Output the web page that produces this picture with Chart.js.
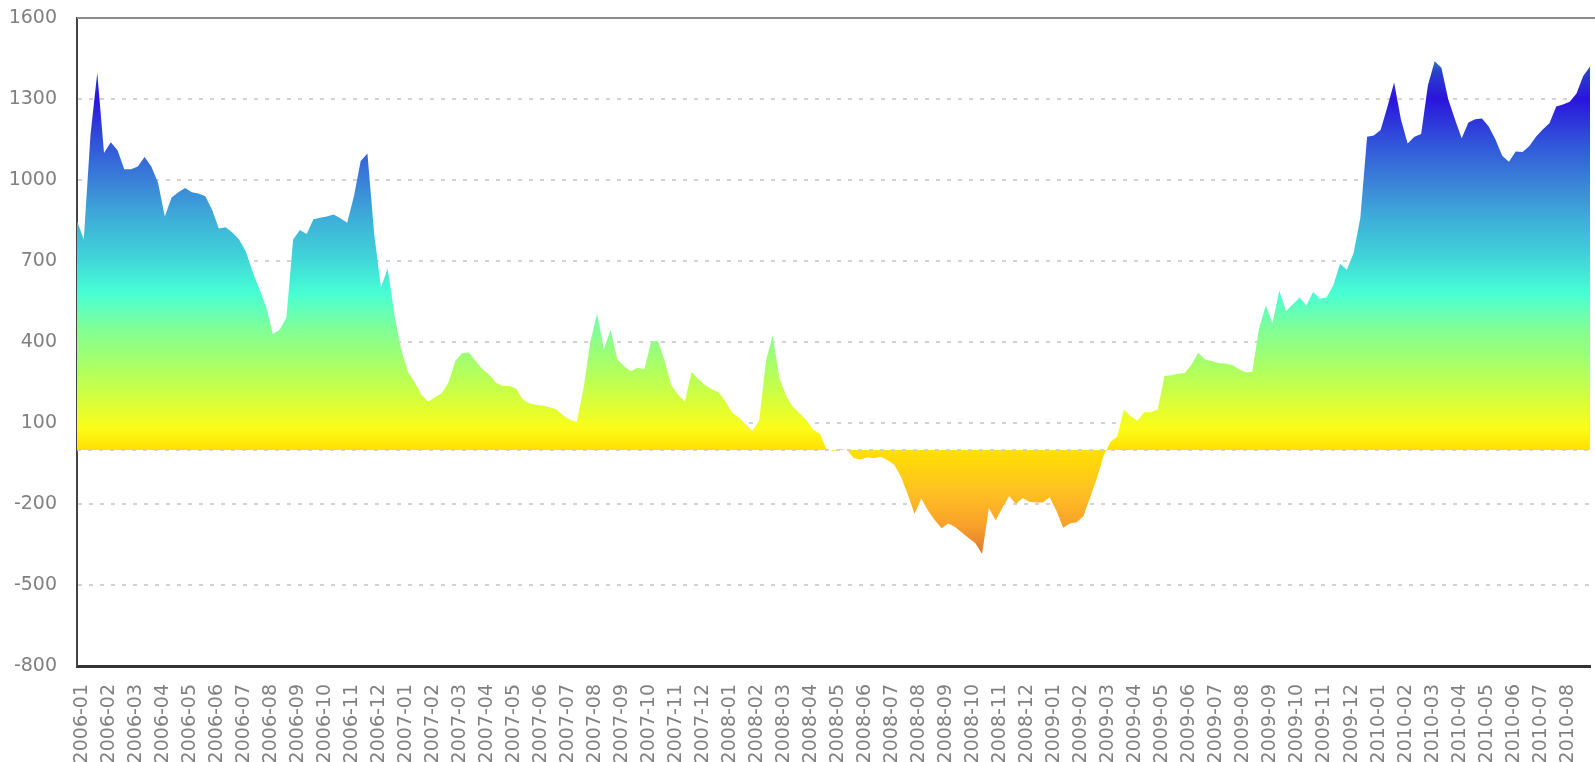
<!DOCTYPE html>
<html>
<head>
<meta charset="utf-8">
<script src="https://cdn.jsdelivr.net/npm/chart.js@4.4.0/dist/chart.umd.min.js"></script>
<style>
    html, body { margin: 0; padding: 0; background: #ffffff; }
    #wrap { width: 1595px; height: 762px; }
</style>
</head>
<body>
<div id="wrap"><canvas id="spreadChart"></canvas></div>
<script>
// Month tick labels on the x axis
const monthLabels = [
    '2006-01', '2006-02', '2006-03', '2006-04', '2006-05', '2006-06', '2006-07', '2006-08', '2006-09', '2006-10', '2006-11', '2006-12',
    '2007-01', '2007-02', '2007-03', '2007-04', '2007-05', '2007-06', '2007-07', '2007-08', '2007-09', '2007-10', '2007-11', '2007-12',
    '2008-01', '2008-02', '2008-03', '2008-04', '2008-05', '2008-06', '2008-07', '2008-08', '2008-09', '2008-10', '2008-11', '2008-12',
    '2009-01', '2009-02', '2009-03', '2009-04', '2009-05', '2009-06', '2009-07', '2009-08', '2009-09', '2009-10', '2009-11', '2009-12',
    '2010-01', '2010-02', '2010-03', '2010-04', '2010-05', '2010-06', '2010-07', '2010-08'
];

// Weekly readings (4 per month)
const values2006 = [
    848, 780, 1168, 1397,   1100, 1140, 1110, 1040,   1040, 1050, 1085, 1050,
    990, 865, 935, 955,     970, 955, 950, 940,       890, 820, 825, 806,
    780, 735, 660, 595,     530, 430, 445, 490,       780, 815, 800, 855,
    860, 865, 872, 858,     842, 940, 1070, 1098,     800, 602, 672, 500
];
const values2007 = [
    370, 290, 250, 205,     180, 195, 210, 250,       330, 358, 362, 330,
    300, 280, 250, 237,     237, 228, 187, 172,       168, 164, 158, 150,
    128, 112, 104, 230,     400, 505, 373, 445,       335, 310, 292, 305,
    300, 400, 405, 330,     240, 205, 180, 290,       262, 240, 225, 214
];
const values2008 = [
    180, 138, 120, 95,      70, 110, 330, 425,        265, 200, 159, 135,
    110, 75, 60, 2,         -3, 4, 0, -30,            -35, -27, -31, -25,
    -38, -55, -100, -165,   -237, -180, -225, -260,   -290, -272, -285, -306,
    -326, -345, -385, -215, -260, -215, -170, -200,   -178, -192, -194, -194
];
const values2009 = [
    -175, -225, -288, -272, -268, -245, -175, -105,   -20, 30, 50, 150,
    125, 108, 140, 140,     150, 274, 277, 282,       285, 316, 360, 335,
    330, 322, 320, 315,     300, 288, 290, 450,       535, 470, 590, 515,
    540, 565, 535, 585,     560, 565, 610, 690,       668, 730, 860, 1160
];
const values2010 = [
    1165, 1185, 1270, 1361, 1225, 1135, 1160, 1170,   1350, 1440, 1416, 1300,
    1225, 1155, 1213, 1225, 1228, 1198, 1150, 1090,   1068, 1106, 1104, 1125,
    1160, 1187, 1210, 1272, 1280, 1290, 1320, 1385,   1420
];

const yMin = -800;
const yMax = 1600;
const yStep = 300;

const samplesPerMonth = 4;

// colour ramp, keyed by value
const rampValues = [1470, 1400, 1300, 1150, 1000, 850, 700, 580, 450, 320, 200, 80, 0, -150, -280, -390];
const rampColors = ['#35a0a0', '#2a40cc', '#2a14dc', '#3050da', '#3a80d8', '#3eb0d8', '#40d8d8', '#48ffd4',
    '#80ff98', '#a8ff68', '#d0ff40', '#fcfc18', '#ffe000', '#ffc222', '#f9a02a', '#dc7a32'];

const allValues = [].concat(values2006, values2007, values2008, values2009, values2010);
const points = allValues.map((v, i) => ({ x: i, y: v }));

Chart.defaults.font.family = '"DejaVu Sans", sans-serif';
Chart.defaults.font.size = 19;
Chart.defaults.color = '#808080';

function areaGradient(context) {
    const chart = context.chart;
    const { ctx, chartArea, scales } = chart;
    if (!chartArea) {
        return null;
    }
    const yScale = scales.y;
    const top = yScale.getPixelForValue(rampValues[0]);
    const bottom = yScale.getPixelForValue(rampValues[rampValues.length - 1]);
    const gradient = ctx.createLinearGradient(0, top, 0, bottom);
    rampValues.forEach((v, i) => {
        const t = (yScale.getPixelForValue(v) - top) / (bottom - top);
        gradient.addColorStop(Math.min(1, Math.max(0, t)), rampColors[i]);
    });
    return gradient;
}

// top frame line and dashed zero line
const framePlugin = {
    id: 'frame',
    afterDatasetsDraw(chart) {
        const { ctx, chartArea, scales } = chart;
        const zeroY = scales.y.getPixelForValue(0);
        ctx.save();
        ctx.strokeStyle = 'rgba(200, 200, 200, 0.8)';
        ctx.lineWidth = 2;
        ctx.setLineDash([4, 7]);
        ctx.beginPath();
        ctx.moveTo(chartArea.left, zeroY);
        ctx.lineTo(chartArea.right, zeroY);
        ctx.stroke();
        ctx.setLineDash([]);
        ctx.strokeStyle = '#8a8a8a';
        ctx.lineWidth = 2;
        ctx.beginPath();
        ctx.moveTo(chartArea.left, chartArea.top);
        ctx.lineTo(chartArea.right + 5, chartArea.top);
        ctx.stroke();
        ctx.restore();
    }
};

new Chart(document.getElementById('spreadChart'), {
    type: 'line',
    data: {
        datasets: [{
            data: points,
            fill: 'origin',
            backgroundColor: areaGradient,
            borderWidth: 0,
            pointRadius: 0,
            tension: 0
        }]
    },
    options: {
        responsive: true,
        maintainAspectRatio: false,
        animation: false,
        devicePixelRatio: 1,
        layout: {
            padding: { top: 18, right: 5, bottom: 0, left: 0 }
        },
        plugins: {
            legend: { display: false },
            tooltip: { enabled: false }
        },
        scales: {
            x: {
                type: 'linear',
                min: 0,
                max: allValues.length - 1,
                afterBuildTicks: function (scale) {
                    scale.ticks = monthLabels.map((label, m) => ({ value: m * samplesPerMonth + 0.7 }));
                },
                afterFit: function (scale) {
                    scale.height = 96;
                    scale.paddingLeft = 0;
                    scale.paddingRight = 0;
                },
                ticks: {
                    autoSkip: false,
                    maxRotation: 90,
                    minRotation: 90,
                    padding: 10,
                    callback: function (value, index) {
                        return monthLabels[index];
                    }
                },
                grid: { display: false },
                border: { display: true, color: '#333333', width: 3 }
            },
            y: {
                min: yMin,
                max: yMax,
                afterFit: function (scale) {
                    scale.width = 77;
                    scale.paddingTop = 0;
                    scale.paddingBottom = 0;
                },
                ticks: {
                    stepSize: yStep,
                    padding: 20,
                    callback: function (value) {
                        return String(value);
                    }
                },
                grid: {
                    drawTicks: false,
                    lineWidth: 2,
                    color: function (context) {
                        const v = context.tick ? context.tick.value : null;
                        if (v === yMin || v === yMax) {
                            return 'rgba(0, 0, 0, 0)';
                        }
                        return '#d2d2d2';
                    }
                },
                border: { display: true, color: '#444444', width: 2, dash: [4, 7] }
            }
        }
    },
    plugins: [framePlugin]
});
</script>
</body>
</html>
